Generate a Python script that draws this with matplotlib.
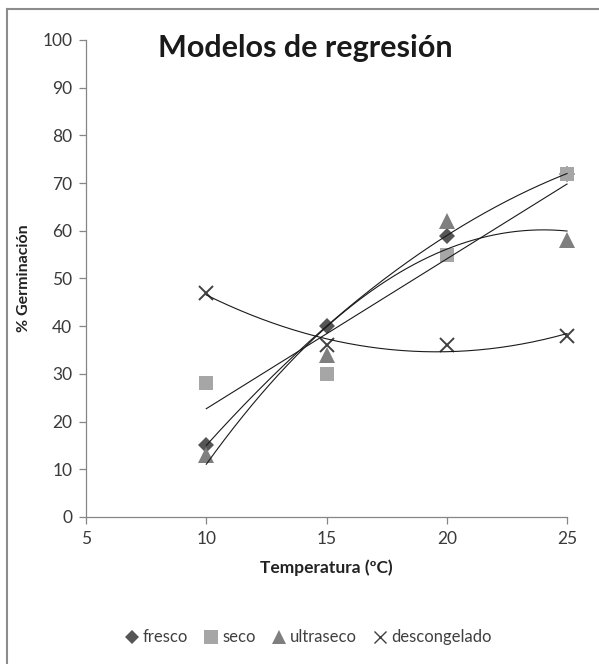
import matplotlib
matplotlib.use("Agg")
import matplotlib.pyplot as plt
from matplotlib.lines import Line2D
import numpy as np

temperatura = [10, 15, 20, 25]
fresco = [15, 40, 59, 72]
seco = [28, 30, 55, 72]
ultraseco = [13, 34, 62, 58]
descongelado = [47, 36, 36, 38]

# (label, datos, marcador, color, tamaño, grado de la línea de tendencia)
SERIES = [
    ("fresco", fresco, "D", "#555555", 8, 2),
    ("seco", seco, "s", "#a6a6a6", 10.5, 1),
    ("ultraseco", ultraseco, "^", "#7f7f7f", 11, 2),
    ("descongelado", descongelado, "x", "#404040", 10, 2),
]

plt.rcParams["font.family"] = ["Lato", "DejaVu Sans"]

fig = plt.figure(figsize=(5.99, 6.64), dpi=100)
ax = fig.add_axes([0.1436, 0.2214, 0.803, 0.7184])

x = np.array(temperatura, dtype=float)
xs = np.linspace(10, 25, 200)
handles = []
for label, vals, marker, color, size, deg in SERIES:
    if marker == "x":
        ax.plot(x, vals, linestyle="none", marker="x", markersize=size,
                markeredgewidth=1.4, color=color, zorder=3, clip_on=False)
    else:
        ax.plot(x, vals, linestyle="none", marker=marker, markersize=size,
                color=color, markeredgewidth=0, zorder=3, clip_on=False)
    coef = np.polyfit(x, vals, deg)
    ax.plot(xs, np.polyval(coef, xs), color="#1a1a1a", linewidth=0.8,
            zorder=4, clip_on=False)
    handles.append(Line2D([], [], linestyle="none", marker=marker, color=color,
                          markersize=size - 1,
                          markeredgewidth=1.0 if marker == "x" else 0,
                          label=label))

ax.set_xlim(5, 25)
ax.set_ylim(0, 100)
ax.set_xticks([5, 10, 15, 20, 25])
ax.set_yticks(range(0, 101, 10))
for side in ("top", "right"):
    ax.spines[side].set_visible(False)
for side in ("left", "bottom"):
    ax.spines[side].set_color("#868686")
    ax.spines[side].set_linewidth(0.9)
ax.tick_params(direction="out", length=5, width=0.9, color="#868686",
               labelsize=12.5, labelcolor="#3a3a3a", pad=5)

ax.set_xlabel("Temperatura (ºC)", fontsize=12.5, fontweight="bold", labelpad=9,
              color="#222222")
ax.set_ylabel("% Germinación", fontsize=11.5, fontweight="bold", labelpad=8,
              color="#222222")

fig.text(0.51, 0.927, "Modelos de regresión", fontsize=22, fontweight="bold",
         ha="center", va="center", color="#1a1a1a")

fig.legend(handles=handles, loc="center", bbox_to_anchor=(0.513, 0.04),
           ncol=4, frameon=False, fontsize=12, handletextpad=0.15,
           columnspacing=0.9, handlelength=1.0, labelcolor="#404040")

# Borde del área del gráfico (solo visible arriba y a la izquierda)
fig.add_artist(Line2D([0.011, 0.011], [0.0, 0.987], color="#8c8c8c",
                      linewidth=1.5, transform=fig.transFigure))
fig.add_artist(Line2D([0.011, 1.0], [0.987, 0.987], color="#8c8c8c",
                      linewidth=1.5, transform=fig.transFigure))

fig.savefig("out.png", dpi=100)
